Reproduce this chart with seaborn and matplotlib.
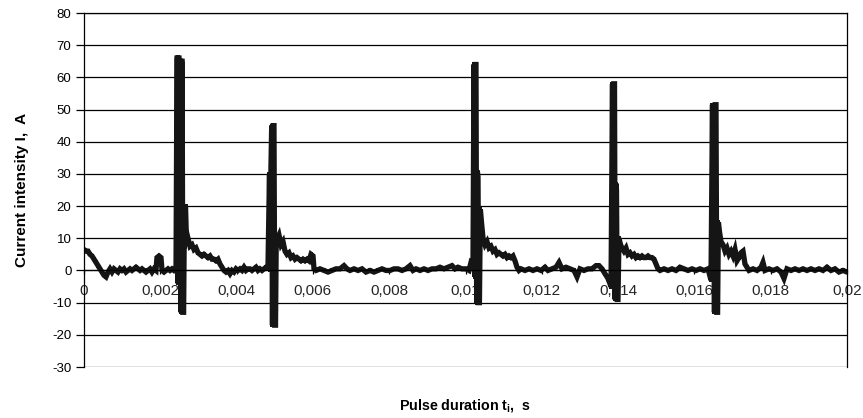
import numpy as np
import pandas as pd
import seaborn as sns
import matplotlib
matplotlib.use("Agg")
import matplotlib.pyplot as plt

# Sampled time instants (microseconds) and current readings (A)
time_us = [
    0, 52, 105, 157, 210, 262, 315, 367, 419, 472, 524, 577, 629, 682, 734, 786,
    839, 891, 944, 996, 1048, 1101, 1153, 1206, 1258, 1311, 1363, 1415, 1468, 1520,
    1573, 1625, 1678, 1730, 1782, 1835, 1887, 1913, 1966, 2018, 2045, 2097, 2149,
    2202, 2254, 2307, 2359, 2412,
    # first pulse
    2438, 2450, 2462, 2475, 2490, 2503, 2516, 2530, 2545, 2558, 2572, 2590, 2611,
    2632, 2661, 2687, 2726, 2778, 2831,
    2883, 2936, 2988, 3041, 3093, 3145, 3198, 3250, 3303, 3355, 3408, 3460, 3512,
    3565, 3617, 3670, 3722, 3775, 3827, 3879, 3932, 3984, 4037, 4089, 4141, 4194,
    4246, 4299, 4351, 4404, 4456, 4508, 4561, 4613, 4666, 4718, 4771, 4823,
    # second pulse
    4862, 4880, 4900, 4920, 4940, 4960, 4980, 5000, 5020, 5040, 5072, 5111, 5164,
    5216, 5269, 5321, 5373,
    5426, 5478, 5531, 5583, 5636, 5688, 5740, 5793, 5845, 5898, 5950, 6003, 6029,
    6081, 6186, 6291, 6396, 6501, 6605, 6710, 6815, 6894, 6972, 7077, 7182, 7287,
    7392, 7497, 7601, 7706, 7811, 7916, 8021, 8126, 8231, 8336, 8440, 8545, 8624,
    8702, 8807, 8912, 9017, 9122, 9227, 9331, 9436, 9541, 9646, 9725, 9803, 9908,
    10013, 10092, 10144, 10196,
    # third pulse
    10223, 10240, 10258, 10275, 10292, 10310, 10328, 10345, 10365, 10390, 10419,
    10459, 10511, 10563,
    10616, 10668, 10721, 10773, 10826, 10878, 10931, 10983, 11035, 11088, 11140,
    11193, 11245, 11297, 11350, 11402, 11455, 11559, 11664, 11769, 11874, 11979,
    12084, 12162, 12267, 12372, 12451, 12529, 12634, 12739, 12844, 12923, 13001,
    13106, 13211, 13316, 13421, 13499, 13578, 13656, 13735, 13814,
    # fourth pulse
    13853, 13870, 13888, 13906, 13922, 13940, 13958, 13976, 13997, 14023, 14063,
    14102, 14154, 14207,
    14259, 14312, 14364, 14417, 14469, 14521, 14574, 14626, 14679, 14731, 14784,
    14836, 14888, 14941, 14993, 15046, 15098, 15203, 15308, 15413, 15518, 15622,
    15727, 15832, 15937, 16042, 16147, 16251, 16356, 16435,
    # fifth pulse
    16474, 16490, 16507, 16525, 16545, 16566, 16587, 16608, 16629, 16658, 16697,
    16749, 16802, 16854, 16907,
    16959, 17012, 17064, 17116, 17169, 17221, 17274, 17326, 17379, 17431, 17536,
    17641, 17746, 17798, 17850, 17955, 18060, 18165, 18270, 18348, 18427, 18532,
    18637, 18742, 18846, 18951, 19056, 19161, 19266, 19371, 19475, 19580, 19685,
    19790, 19895, 20000,
]

current_a = [
    6.5, 6, 6, 5, 4.5, 3.5, 2.5, 1.5, 0.5, -0.5, -1.5, -2, -0.5, 0.5, -0.5, 0.5,
    0, -0.5, 0.5, 0, 0.5, -0.5, 0, 0.5, 0, 0.5, 1, 0.5, 0, 0.5,
    0, -0.5, 0, 0.5, -0.5, 0.5, 0, 4, 4.5, 4, 0, -0.5, 0,
    0.5, 0, 0.5, 0, 0.5,
    66, 66, -4, 66, 66, -4, 65, 65, -13, 65, 65, -13, -13,
    18, 20, 9, 10, 7.5, 8,
    6.5, 7, 5.5, 5, 4.5, 5, 4.5, 4, 4.5, 3.5, 3.5, 3, 3.5,
    2, 1, 0, -0.5, 0, -1, 0, -0.5, 0.5, 0, 0.5, 0, 1,
    0, 0.5, 0.5, 0, 0.5, 1, 0, 0.5, 0, 0.5, 1, 1.5,
    30, 0, 32, 45, -17, 45, 45, -17, -17, 11, 10, 11, 8,
    9, 6, 5, 5.5,
    4, 4.5, 3.5, 4, 3.5, 3, 3.5, 3, 3.5, 3, 5, 4.5, 0.5,
    0, 0.5, 0, -0.5, 0, 0.5, 0.5, 1.5, 0.5, 0, 0.5, 0, 0.5,
    -0.5, 0, -0.5, 0, 0.5, 0, 0, 0.5, 0.5, 0, 0.5, 1.5, 0,
    0.5, 0, 0.5, 0, 0.5, 0.5, 1, 0.5, 1, 1.5, 0.5, 1, 0.5,
    0.5, 0, 2.5, 2,
    64, -2, 64, 64, -10, 31, 29, -10, -10, 19, 15,
    10, 8, 9,
    7, 7.5, 6, 6.5, 5, 5.5, 5, 4.5, 5, 4, 4.5,
    4, 4.5, 3, 1, 0, 0.5, 0, 0.5, 0, 0.5, 0,
    1, 0, 0.5, 1, 2.5, 0.5, 1, 0.5, 0, -2, 0.5,
    0, 0.5, 0.5, 1.5, 1.5, 0.5, -1, -2.5, -5,
    58, -5, 58, 58, -9, 27, 25, -9, -9, 10, 8,
    7, 6, 7,
    5, 5.5, 4.5, 5, 4, 4.5, 4, 4.5, 4, 4, 4.5,
    4, 4, 3.5, 2, 0.5, 0, 0.5, 0, 0.5, 0, 1,
    0.5, 0, 0.5, 0, 0.5, 0, 0.5, -3,
    51.5, -3, 51.5, -13, 51.5, 51.5, -13, -13, 15, 12, 9,
    8, 6, 7, 5,
    6, 4.5, 6.5, 3, 4, 5.5, 6, 2, 1, 0, 0.5,
    0, 1, 2.5, 0, 0.5, 0, 0.5, -0.5, -2.5, 0.5, 0,
    0.5, 0, 0.5, 0, 0.5, 0, 0.5, 0, 1, 0, 0.5,
    -0.5, 0, -0.5,
]

y_ticks = list(range(-30, 90, 10))
x_ticks = [0, 0.002, 0.004, 0.006, 0.008, 0.01, 0.012, 0.014, 0.016, 0.018, 0.02]
x_tick_labels = ["0", "0,002", "0,004", "0,006", "0,008", "0,01", "0,012",
                 "0,014", "0,016", "0,018", "0,02"]

sns.set_theme(style="white")
plt.rcParams["font.family"] = ["Liberation Sans", "DejaVu Sans"]
plt.rcParams["mathtext.fontset"] = "custom"
plt.rcParams["mathtext.rm"] = "Liberation Sans:bold"
plt.rcParams["mathtext.bf"] = "Liberation Sans:bold"
plt.rcParams["mathtext.it"] = "Liberation Sans:bold"

df = pd.DataFrame({"t": np.array(time_us) * 1e-6, "I": current_a})

fig = plt.figure(figsize=(8.63, 4.18), dpi=100)
ax = fig.add_axes([84 / 863, 1 - 367 / 418, (847 - 84) / 863, (367 - 13) / 418])

sns.lineplot(data=df, x="t", y="I", sort=False, estimator=None, ax=ax,
             color="#151515", linewidth=3.8, marker="s", markersize=3.5,
             markeredgewidth=0, solid_joinstyle="miter")

ax.set_xlim(0, 0.02)
ax.set_ylim(-30, 80)
ax.set_yticks(y_ticks)
ax.set_yticklabels([str(v) for v in y_ticks], fontsize=9.5, color="black")
ax.set_xticks(x_ticks)
ax.set_xticklabels(x_tick_labels, fontsize=9.5, color="black")

for v in y_ticks:
    ax.axhline(v, color="black", linewidth=0.9, zorder=0)

for side in ["left", "right", "top"]:
    ax.spines[side].set_visible(True)
    ax.spines[side].set_color("black")
    ax.spines[side].set_linewidth(0.9)
ax.spines["bottom"].set_position(("data", 0))
ax.spines["bottom"].set_color("black")
ax.spines["bottom"].set_linewidth(0.9)

ax.tick_params(axis="y", direction="out", length=6, width=0.9, color="black",
               left=True, pad=3)
ax.tick_params(axis="x", direction="out", length=3, width=0.9, color="black",
               bottom=True, pad=7)

ax.set_xlabel("")
ax.set_ylabel("Current intensity I,  A", fontsize=11, fontweight="bold",
              color="black", labelpad=17)
fig.text(465.5 / 863, 1 - 405 / 418, r"Pulse duration t$_{\mathregular{i}}$,  s",
         ha="center", va="center", fontsize=10.3, fontweight="bold", color="black")

fig.savefig("out.png", dpi=100)
